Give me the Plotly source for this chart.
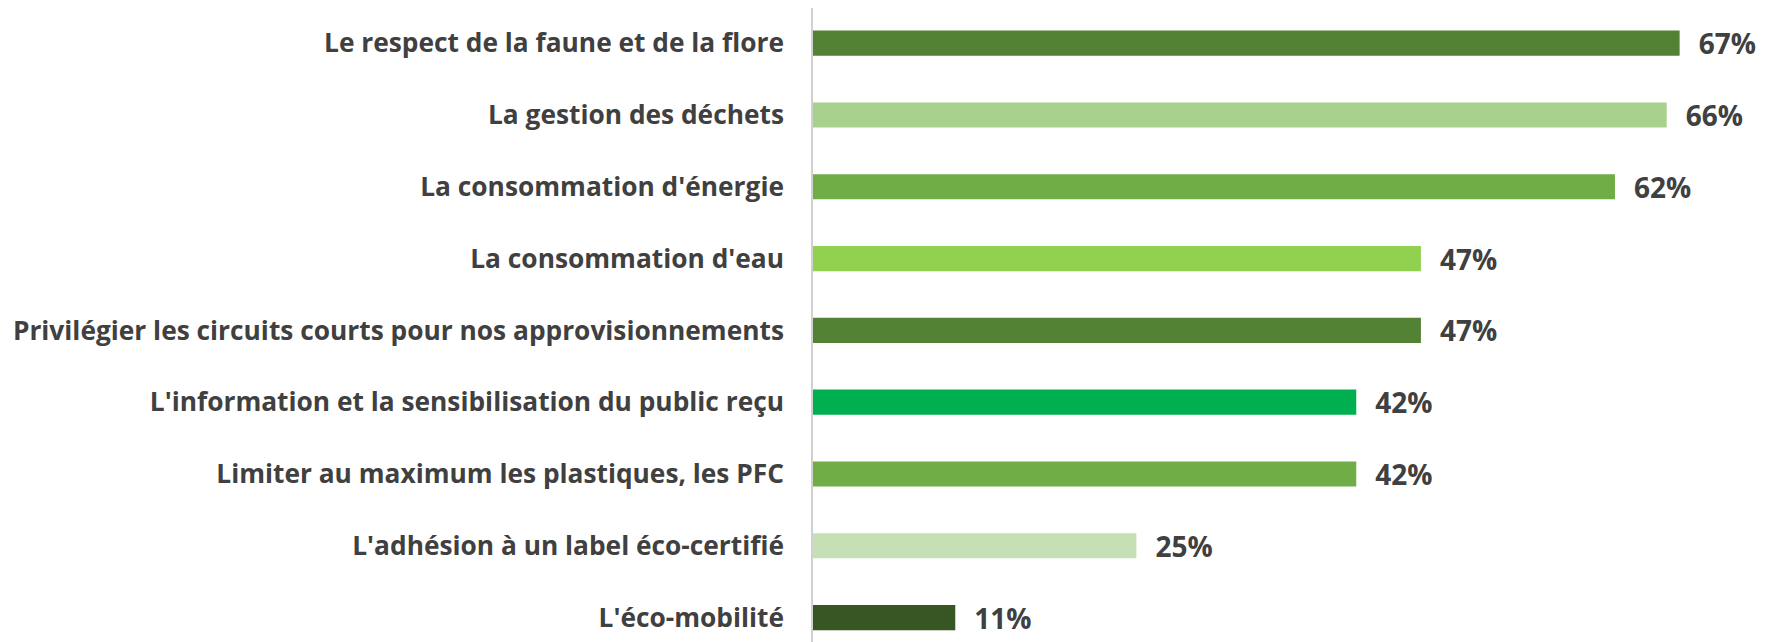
import plotly.graph_objects as go

categories = [
    "L'éco-mobilité",
    "L'adhésion à un label éco-certifié",
    "Limiter au maximum les plastiques, les PFC",
    "L'information et la sensibilisation du public reçu",
    "Privilégier les circuits courts pour nos approvisionnements",
    "La consommation d'eau",
    "La consommation d'énergie",
    "La gestion des déchets",
    "Le respect de la faune et de la flore",
]
values = [11, 25, 42, 42, 47, 47, 62, 66, 67]
colors = ["#375623", "#C5E0B4", "#70AD47", "#00B050", "#548235",
          "#92D050", "#70AD47", "#A9D18E", "#548235"]

FONT = "Open Sans"
TXT = "#404040"

fig = go.Figure(go.Bar(
    x=values, y=categories, orientation="h",
    marker=dict(color=colors, line=dict(width=0)),
    width=0.35,
    text=[f"\u2007{v}%" for v in values],
    textposition="outside",
    constraintext="none",
    textfont=dict(family=FONT, size=28, color=TXT, weight="bold"),
    cliponaxis=False,
))

fig.update_layout(
    width=1757, height=634,
    margin=dict(l=805, r=0, t=0, b=0),
    paper_bgcolor="white", plot_bgcolor="white",
    showlegend=False,
    xaxis=dict(range=[0, 73.6], visible=False, showgrid=False, zeroline=False),
    yaxis=dict(
        type="category", categoryorder="array", categoryarray=categories,
        range=[-0.34, 8.49],
        showgrid=False, zeroline=False,
        showline=True, linecolor="#D0D0D0", linewidth=1.5,
        ticks="", ticklabelstandoff=22,
        tickfont=dict(family=FONT, size=26.3, color=TXT, weight="bold"),
    ),
)

fig.write_html("out.html")
